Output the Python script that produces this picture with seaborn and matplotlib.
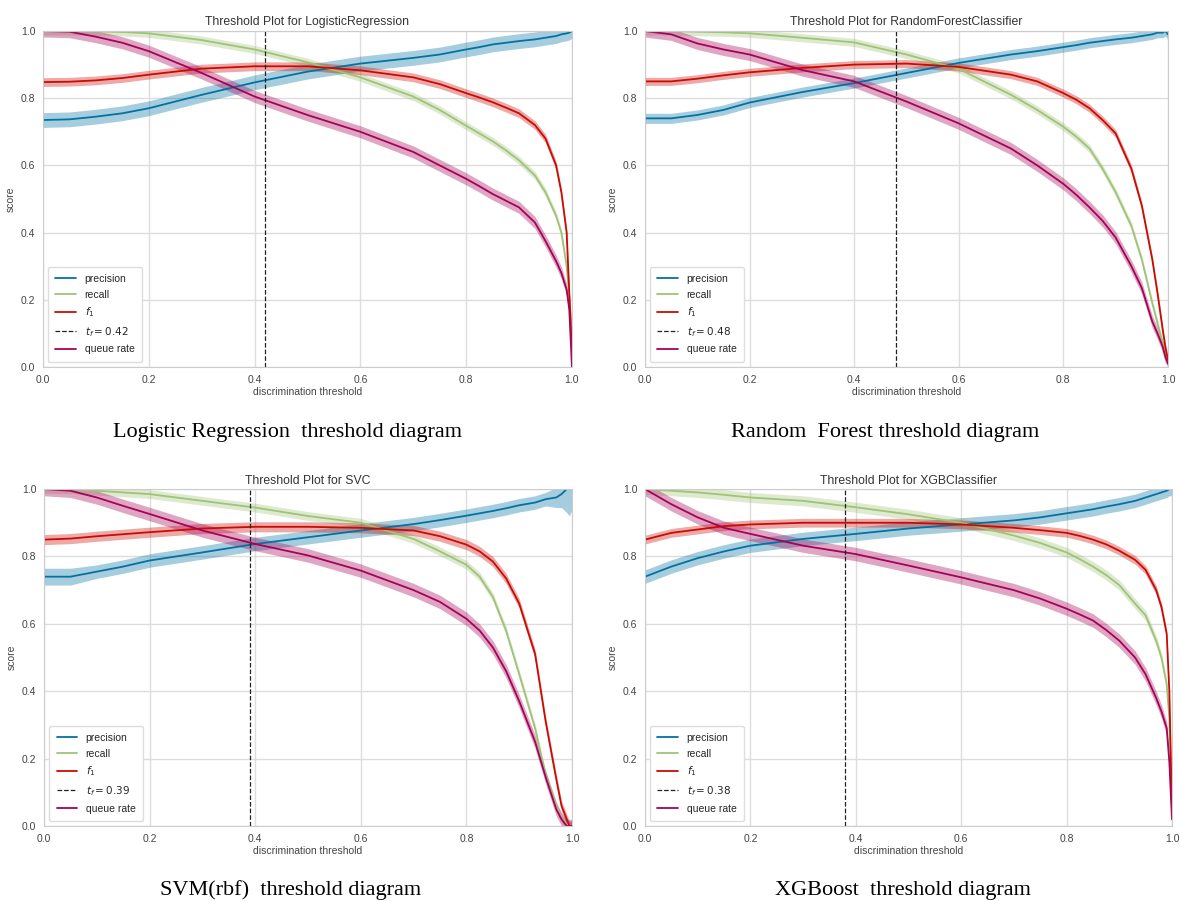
import numpy as np
import pandas as pd
import matplotlib
matplotlib.use('Agg')
import matplotlib.pyplot as plt
import seaborn as sns

thresholds = [0.0, 0.05, 0.1, 0.15, 0.2, 0.3, 0.4, 0.5, 0.6, 0.7, 0.75, 0.8, 0.825,
              0.85, 0.875, 0.9, 0.93, 0.95, 0.97, 0.98, 0.99, 0.995, 1.0]

# Logistic Regression
lr_precision = [.735, .737, .745, .755, .77, .81, .847, .879, .903, .92, .93, .945, .952,
                .96, .965, .97, .975, .98, .985, .99, .993, .995, 1.0]
lr_recall = [1.0, 1.0, .999, .997, .993, .973, .945, .907, .862, .805, .765, .718, .695,
             .672, .645, .615, .57, .52, .45, .40, .30, .21, .10]
lr_f1 = [.848, .849, .853, .86, .87, .888, .895, .895, .883, .862, .842, .815, .802,
         .788, .772, .755, .72, .68, .60, .52, .40, .22, .05]
lr_queue = [1.0, .998, .983, .965, .94, .875, .805, .75, .70, .64, .60, .56, .538,
            .515, .495, .475, .43, .375, .315, .28, .23, .17, .0]

# Random Forest
rf_precision = [.74, .74, .75, .765, .787, .818, .845, .875, .905, .93, .94, .952, .958,
                .965, .97, .975, .98, .985, .99, .995, .995, 1.0, .99]
rf_recall = [1.0, 1.0, .998, .996, .993, .98, .966, .93, .887, .81, .765, .715, .685,
             .65, .59, .52, .42, .32, .19, .13, .07, .04, .01]
rf_f1 = [.85, .85, .858, .868, .877, .89, .90, .903, .893, .87, .85, .815, .795,
         .77, .735, .695, .59, .48, .32, .22, .11, .06, .02]
rf_queue = [1.0, .99, .963, .945, .93, .884, .85, .79, .725, .65, .60, .545, .512,
            .475, .435, .385, .30, .235, .135, .10, .06, .03, .01]

# SVM (rbf)
svc_precision = [.74, .74, .755, .77, .788, .812, .837, .857, .877, .896, .908, .921, .928,
                 .935, .943, .952, .96, .97, .975, .985, 1.0, 1.0, 1.0]
svc_recall = [1.0, 1.0, .995, .99, .985, .965, .945, .92, .90, .852, .815, .775, .74,
              .68, .58, .45, .29, .15, .06, .02, .005, .0, .0]
svc_f1 = [.85, .853, .86, .866, .872, .883, .888, .888, .885, .877, .86, .835, .815,
          .785, .735, .66, .51, .31, .14, .06, .02, .0, .0]
svc_queue = [1.0, .995, .975, .95, .926, .877, .837, .803, .758, .70, .665, .615, .58,
             .53, .46, .37, .25, .145, .05, .02, .0, .0, .0]

# XGBoost
xgb_precision = [.74, .77, .795, .815, .832, .852, .867, .883, .895, .907, .916, .928, .934,
                 .94, .948, .955, .965, .975, .985, .99, .995, 1.0, 1.0]
xgb_recall = [1.0, .995, .99, .983, .975, .965, .946, .925, .90, .862, .84, .812, .792,
              .77, .745, .715, .66, .625, .55, .50, .42, .32, .05]
xgb_f1 = [.85, .87, .88, .89, .895, .90, .90, .90, .895, .885, .878, .87, .861,
          .85, .836, .817, .79, .76, .70, .65, .57, .40, .05]
xgb_queue = [1.0, .955, .916, .885, .867, .832, .807, .773, .738, .70, .675, .645, .628,
             .61, .582, .55, .50, .45, .38, .34, .29, .19, .02]

# band half widths (cv spread)
lr_band = [.022, .012, .013, .018]
rf_band = [.015, .012, .012, .018]
svc_band = [.022, .013, .015, .02]
xgb_band = [.02, .015, .013, .02]
svc_prec_band = [.025, .025, .02, .02, .02, .02, .02, .02, .02, .02, .02, .02, .02,
                 .02, .02, .02, .02, .02, .03, .04, .07, .08, .06]

models = ['LogisticRegression', 'RandomForestClassifier', 'SVC', 'XGBClassifier']
best_t = [0.42, 0.48, 0.39, 0.38]
captions = ['Logistic Regression  threshold diagram', 'Random  Forest threshold diagram',
            'SVM(rbf)  threshold diagram', 'XGBoost  threshold diagram']

panels = [
    (lr_precision, lr_recall, lr_f1, lr_queue, lr_band),
    (rf_precision, rf_recall, rf_f1, rf_queue, rf_band),
    (svc_precision, svc_recall, svc_f1, svc_queue, svc_band),
    (xgb_precision, xgb_recall, xgb_f1, xgb_queue, xgb_band),
]

colors = ['#0272a2', '#9fc377', '#ca0b03', '#a50258']
labels = ['precision', 'recall', '$f_1$', 'queue rate']

sns.set_style('whitegrid')
plt.rcParams['font.family'] = ['Liberation Sans', 'DejaVu Sans']

fig = plt.figure(figsize=(11.8, 9.01), dpi=100)
positions = [
    [0.0364, 0.5927, 0.4483, 0.3729],
    [0.5466, 0.5927, 0.4432, 0.3729],
    [0.0373, 0.0832, 0.4475, 0.3740],
    [0.5466, 0.0832, 0.4466, 0.3740],
]
caption_xy = [(0.244, 0.520), (0.750, 0.520), (0.246, 0.012), (0.765, 0.012)]

for i, (prec, rec, f1, queue, band) in enumerate(panels):
    ax = fig.add_axes(positions[i])
    series = [prec, rec, f1, queue]
    for j, vals in enumerate(series):
        df = pd.DataFrame({'threshold': thresholds, 'score': vals})
        sns.lineplot(data=df, x='threshold', y='score', ax=ax, color=colors[j],
                     linewidth=1.3, label=labels[j])
        hw = svc_prec_band if (i == 2 and j == 0) else band[j]
        v = np.array(vals)
        ax.fill_between(thresholds, np.clip(v - hw, 0, 1.02), np.clip(v + hw, 0, 1.02),
                        color=colors[j], alpha=0.35, linewidth=0)
    ax.axvline(best_t[i], color='#222222', linestyle='--', linewidth=0.9,
               label='$t_f = %.2f$' % best_t[i])

    h, l = ax.get_legend_handles_labels()
    order = [0, 1, 2, 4, 3]
    ax.legend([h[k] for k in order], [l[k] for k in order], loc='lower left',
              frameon=True, fontsize=7.5, facecolor='white', edgecolor='#dddddd',
              framealpha=1, borderpad=0.7, labelspacing=0.55)

    ax.set_xlim(0, 1)
    ax.set_ylim(0, 1)
    ax.set_xticks([0, 0.2, 0.4, 0.6, 0.8, 1.0])
    ax.set_yticks([0, 0.2, 0.4, 0.6, 0.8, 1.0])
    ax.set_xticklabels(['0.0', '0.2', '0.4', '0.6', '0.8', '1.0'])
    ax.set_yticklabels(['0.0', '0.2', '0.4', '0.6', '0.8', '1.0'])
    ax.tick_params(labelsize=7.5, colors='#444444', pad=2)
    ax.set_title('Threshold Plot for ' + models[i], fontsize=8.8, color='#333333', pad=4)
    ax.set_xlabel('discrimination threshold', fontsize=7.5, color='#444444', labelpad=2)
    ax.set_ylabel('score', fontsize=7.5, color='#444444', labelpad=4)
    ax.grid(True, color='#dddddd', linewidth=1)
    for s in ax.spines.values():
        s.set_color('#cccccc')

    fig.text(caption_xy[i][0], caption_xy[i][1], captions[i], ha='center', va='center',
             fontsize=16, family='Liberation Serif', color='black')

fig.savefig('out.png', dpi=100)
